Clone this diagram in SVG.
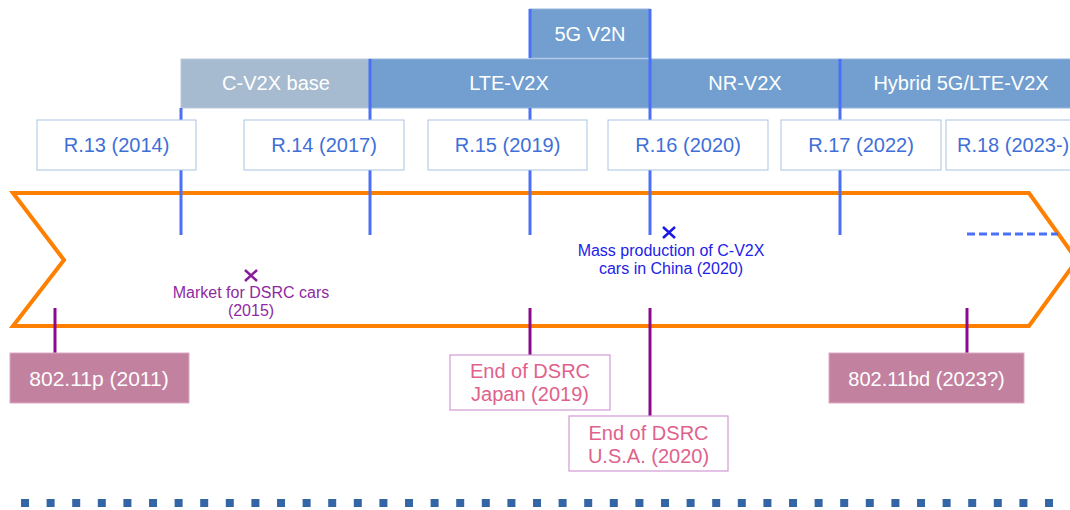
<svg xmlns="http://www.w3.org/2000/svg" width="1070" height="510" viewBox="0 0 1070 510">
<style>
text{font-family:"Liberation Sans",Arial,sans-serif;text-anchor:middle}
.band{fill:#729fcf;stroke:#94b6dd;stroke-width:1}
.bandT{fill:#ffffff;font-size:20px}
.rel{fill:#ffffff;stroke:#a8c3e2;stroke-width:1}
.relT{fill:#3f6fd8;font-size:20px}
.vl{stroke:#4a70f7;stroke-width:3;fill:none}
.pl{stroke:#8a0a8e;stroke-width:3;fill:none}
.std{fill:#c2819f;stroke:#dcaac2;stroke-width:1}
.stdT{fill:#ffffff;font-size:20px}
.end{fill:#ffffff;stroke:#d39ad6;stroke-width:1.2}
.endT{fill:#e0628c;font-size:20px}
</style>
<rect width="1070" height="510" fill="#ffffff"/>
<g id="bands">
<rect x="530" y="9" width="120" height="49" class="band"/>
<text x="590" y="41" class="bandT">5G V2N</text>
<rect x="181" y="59" width="189" height="49" fill="#a7bbd0" stroke="#b9cadb" stroke-width="1"/>
<text x="276" y="90" class="bandT">C-V2X base</text>
<rect x="370" y="59" width="705" height="49" class="band"/>
<text x="509" y="90" class="bandT">LTE-V2X</text>
<text x="745" y="90" class="bandT">NR-V2X</text>
<text x="961" y="90" class="bandT">Hybrid 5G/LTE-V2X</text>
</g>
<g id="timeline">
<path d="M13,193 L1029,193 L1077,260 L1029,326 L13,326 L64,260 Z" fill="none" stroke="#ff8000" stroke-width="4" stroke-linejoin="miter"/>
</g>
<g id="connectors">
<line x1="181" y1="108" x2="181" y2="235" class="vl"/>
<line x1="370" y1="59" x2="370" y2="235" class="vl"/>
<line x1="530" y1="9" x2="530" y2="58" class="vl"/>
<line x1="530" y1="108" x2="530" y2="235" class="vl"/>
<line x1="650" y1="9" x2="650" y2="235" class="vl"/>
<line x1="840" y1="59" x2="840" y2="235" class="vl"/>
<line x1="967" y1="234" x2="1058" y2="234" class="vl" stroke-dasharray="8 4"/>
<line x1="55" y1="308" x2="55" y2="353" class="pl"/>
<line x1="530" y1="308" x2="530" y2="355" class="pl"/>
<line x1="650" y1="308" x2="650" y2="416" class="pl"/>
<line x1="967" y1="308" x2="967" y2="353" class="pl"/>
<line x1="21" y1="503" x2="1060" y2="503" stroke="#3465a4" stroke-width="8" stroke-dasharray="8 17.6"/>
</g>
<g id="r13"><rect x="37" y="120" width="159" height="50" class="rel"/><text x="116.5" y="152" class="relT">R.13 (2014)</text></g>
<g id="r14"><rect x="244" y="120" width="160" height="50" class="rel"/><text x="324" y="152" class="relT">R.14 (2017)</text></g>
<g id="r15"><rect x="428" y="120" width="159" height="50" class="rel"/><text x="507.5" y="152" class="relT">R.15 (2019)</text></g>
<g id="r16"><rect x="608" y="120" width="160" height="50" class="rel"/><text x="688" y="152" class="relT">R.16 (2020)</text></g>
<g id="r17"><rect x="781" y="120" width="160" height="50" class="rel"/><text x="861" y="152" class="relT">R.17 (2022)</text></g>
<g id="r18"><rect x="946" y="120" width="160" height="50" class="rel"/><text x="1014" y="152" class="relT" text-anchor="start" style="text-anchor:start" dx="-57">R.18 (2023-)</text></g>
<g id="dsrc-market">
<path d="M245,270 L257,281 M257,270 L245,281" stroke="#8a1a9e" stroke-width="2.5" fill="none"/>
<text x="251" y="298" fill="#8e2aa2" font-size="16">Market for DSRC cars</text>
<text x="251" y="316" fill="#8e2aa2" font-size="16">(2015)</text>
</g>
<g id="cv2x-china">
<path d="M663,227 L675,238 M675,227 L663,238" stroke="#1a1ae6" stroke-width="2.5" fill="none"/>
<text x="671" y="256" fill="#2222e8" font-size="16">Mass production of C-V2X</text>
<text x="671" y="274" fill="#2222e8" font-size="16">cars in China (2020)</text>
</g>
<g id="p80211p"><rect x="10" y="353" width="179" height="50" class="std"/><text x="99" y="386" class="stdT" font-size="21" style="font-size:21px">802.11p (2011)</text></g>
<g id="end-japan"><rect x="450" y="355" width="160" height="55" class="end"/><text x="530" y="378" class="endT">End of DSRC</text><text x="530" y="401" class="endT">Japan (2019)</text></g>
<g id="end-usa"><rect x="569" y="416" width="159" height="55" class="end"/><text x="648.5" y="440" class="endT">End of DSRC</text><text x="648.5" y="463" class="endT">U.S.A. (2020)</text></g>
<g id="p80211bd"><rect x="829" y="353" width="195" height="50" class="std"/><text x="926.5" y="386" class="stdT">802.11bd (2023?)</text></g>
</svg>
